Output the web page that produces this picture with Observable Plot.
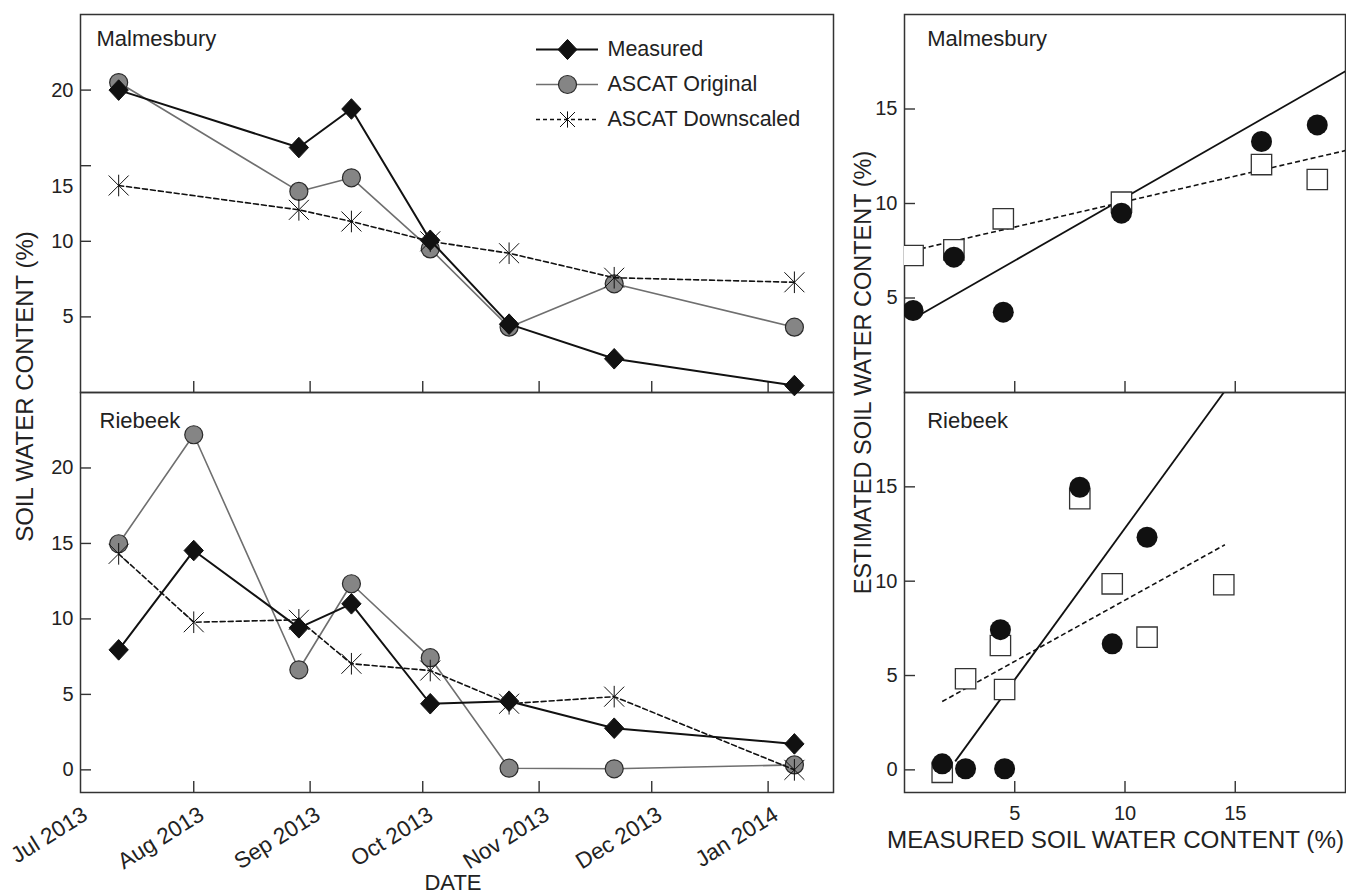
<!DOCTYPE html>
<html>
<head>
<meta charset="utf-8">
<script src="https://cdn.jsdelivr.net/npm/d3@7"></script>
<script src="https://cdn.jsdelivr.net/npm/@observablehq/plot@0.6"></script>
<style>
  body { margin: 0; background: #fff; }
  #chart { position: relative; width: 1346px; height: 895px; overflow: hidden; background: #fff;
           font-family: "Liberation Sans", Arial, sans-serif; }
  #chart svg { position: absolute; }
</style>
</head>
<body>
<div id="chart"></div>
<script>
// ---------------- DATA ----------------
const seriesNames = ["Measured", "ASCAT Original", "ASCAT Downscaled"];
const monthTicks = ["2013-07-01", "2013-08-01", "2013-09-01", "2013-10-01", "2013-11-01", "2013-12-01", "2014-01-01"];

const malmesburyDates = ["2013-07-12", "2013-08-29", "2013-09-12", "2013-10-03", "2013-10-24", "2013-11-21", "2014-01-08"];
const malmesburyMeasured   = [20.0, 16.2, 18.75, 10.07, 4.52, 2.23, 0.46];
const malmesburyOriginal   = [20.5, 13.3, 14.2, 9.5, 4.32, 7.19, 4.32];
const malmesburyDownscaled = [13.69, 12.08, 11.31, 10.0, 9.21, 7.59, 7.29];

const riebeekDates = ["2013-07-12", "2013-08-01", "2013-08-29", "2013-09-12", "2013-10-03", "2013-10-24", "2013-11-21", "2014-01-08"];
const riebeekMeasured   = [7.95, 14.53, 9.41, 11.0, 4.38, 4.55, 2.76, 1.72];
const riebeekOriginal   = [14.98, 22.2, 6.63, 12.33, 7.43, 0.11, 0.07, 0.33];
const riebeekDownscaled = [14.31, 9.78, 9.94, 7.03, 6.58, 4.38, 4.85, 0.0];

// measured vs estimated (scatter panels)
const malmesburyScatterMeasured   = [16.19, 18.72, 9.84, 4.48, 2.24, 0.39];
const malmesburyScatterOriginal   = [13.28, 14.16, 9.49, 4.25, 7.16, 4.34];
const malmesburyScatterDownscaled = [12.06, 11.27, 10.07, 9.19, 7.55, 7.25];

const riebeekScatterMeasured   = [7.95, 14.48, 9.42, 11.0, 4.35, 4.54, 2.77, 1.71];
const riebeekScatterOriginal   = [14.98, 22.2, 6.68, 12.33, 7.43, 0.06, 0.06, 0.32];
const riebeekScatterDownscaled = [14.37, 9.81, 9.86, 7.03, 6.59, 4.26, 4.83, -0.13];

// fitted lines (end points)
const fitSite   = ["Malmesbury", "Malmesbury", "Riebeek", "Riebeek"];
const fitSeries = ["ASCAT Original", "ASCAT Downscaled", "ASCAT Original", "ASCAT Downscaled"];
const fitX1 = [0.39, 0.39, 2.3, 1.71];
const fitY1 = [3.9, 7.51, 0.45, 3.62];
const fitX2 = [20, 20, 14.48, 14.53];
const fitY2 = [17.0, 12.8, 20.0, 11.93];

// ---------------- HELPERS ----------------
const parse = d3.utcParse("%Y-%m-%d");
const fmtMonth = d3.utcFormat("%b %Y");
const FONT = "'Liberation Sans', Arial, Helvetica, sans-serif";
const INK = "#222";
const FRAME = "#333";

function timeRows(dates, measured, original, downscaled) {
  const rows = [];
  dates.forEach((d, i) => {
    rows.push({date: parse(d), series: "ASCAT Original", value: original[i]});
    rows.push({date: parse(d), series: "ASCAT Downscaled", value: downscaled[i]});
    rows.push({date: parse(d), series: "Measured", value: measured[i]});
  });
  return rows;
}
function scatterRows(measured, original, downscaled) {
  const rows = [];
  measured.forEach((m, i) => {
    rows.push({measured: m, series: "ASCAT Original", value: original[i]});
    rows.push({measured: m, series: "ASCAT Downscaled", value: downscaled[i]});
  });
  return rows;
}
const fits = fitSite.map((s, i) => ({site: s, series: fitSeries[i], x1: fitX1[i], y1: fitY1[i], x2: fitX2[i], y2: fitY2[i]}));

const asteriskSymbol = {
  draw(context, size) {
    const r = Math.sqrt(size / Math.PI);
    const v = r * 1.08;
    context.moveTo(0, -v); context.lineTo(0, v);
    context.moveTo(-r, -r); context.lineTo(r, r);
    context.moveTo(-r, r); context.lineTo(r, -r);
  }
};
const diamondSymbol = {
  draw(context, size) {
    const r = Math.sqrt(size / Math.PI);
    const h = r * 1.12, w = r * 1.05;
    context.moveTo(0, -h); context.lineTo(w, 0); context.lineTo(0, h); context.lineTo(-w, 0); context.closePath();
  }
};

const lineStyle = {
  "Measured": {stroke: "#111", strokeWidth: 2},
  "ASCAT Original": {stroke: "#6f6f6f", strokeWidth: 1.6},
  "ASCAT Downscaled": {stroke: "#111", strokeWidth: 1.6, strokeDasharray: "5,3"}
};
const dotStyle = {
  "Measured": {symbol: diamondSymbol, r: 9.2, fill: "#111", stroke: "#111", strokeWidth: 1},
  "ASCAT Original": {symbol: "circle", r: 9, fill: "#858585", stroke: "#2a2a2a", strokeWidth: 1.2},
  "ASCAT Downscaled": {symbol: asteriskSymbol, r: 10, fill: "none", stroke: "#111", strokeWidth: 1}
};

const X_TIME = [new Date(Date.UTC(2013, 6, 1, 20)), new Date(Date.UTC(2014, 0, 18, 10))];

const chart = document.getElementById("chart");
function place(svg, left, top) {
  svg.style.left = left + "px";
  svg.style.top = top + "px";
  chart.appendChild(svg);
}
const baseStyle = {background: "transparent", overflow: "visible", fontFamily: FONT, color: INK};

// ---------------- TIME SERIES PANELS ----------------
function timePanel({site, rows, yDomain, yTicks, yLabelTicks, bottom, extra = []}) {
  const order = ["ASCAT Original", "ASCAT Downscaled", "Measured"];
  const seriesMarks = order.flatMap(s => {
    const data = rows.filter(r => r.series === s);
    return [
      Plot.line(data, {x: "date", y: "value", ...lineStyle[s]}),
      Plot.dot(data, {x: "date", y: "value", ...dotStyle[s]})
    ];
  });
  const innerTicks = monthTicks.map(parse).filter(d => d > X_TIME[0]);
  const marks = [
    Plot.frame({stroke: FRAME, strokeWidth: 1.5}),
    Plot.axisY(yTicks, {anchor: "left", tickSize: -11, fill: "none", label: null, stroke: FRAME, strokeWidth: 1.4}),
    Plot.axisY(yLabelTicks, {anchor: "left", tickSize: 0, tickPadding: 7, fontSize: 20, label: null, fill: INK}),
    Plot.axisX(innerTicks, {anchor: "bottom", tickSize: -11, fill: "none", label: null, stroke: FRAME, strokeWidth: 1.4}),
    ...(bottom ? [Plot.axisX(monthTicks.map(parse), {anchor: "bottom", tickSize: 0, tickPadding: 20, tickRotate: -32, dx: 8,
                   fontSize: 22.5, tickFormat: fmtMonth, label: null, fill: INK})] : []),
    ...seriesMarks,
    Plot.text([site], {frameAnchor: "top-left", dx: bottom ? 19 : 16, dy: bottom ? 28 : 24, textAnchor: "start",
                       lineAnchor: "middle", fontSize: 22, fill: INK}),
    ...extra
  ];
  return Plot.plot({
    width: 845,
    height: bottom ? 503 : 392,
    marginLeft: 80, marginRight: 12,
    marginTop: bottom ? 0 : 14, marginBottom: bottom ? 103 : 0,
    x: {type: "utc", domain: X_TIME},
    y: {domain: yDomain},
    style: baseStyle,
    marks
  });
}

const tl = timePanel({
  site: "Malmesbury",
  rows: timeRows(malmesburyDates, malmesburyMeasured, malmesburyOriginal, malmesburyDownscaled),
  yDomain: [0, 25], yTicks: [5, 10, 15, 20], yLabelTicks: [5, 10, 20], bottom: false,
  extra: [
    // the "15" label sits below its tick in the original figure
    Plot.text([15], {y: d => d, text: d => String(d), frameAnchor: "left", dx: -7, dy: 21, textAnchor: "end",
                     lineAnchor: "middle", fontSize: 20, fill: INK}),
    Plot.text(["SOIL WATER CONTENT (%)"], {frameAnchor: "bottom-left", rotate: -90, dx: -55, dy: -6,
                     textAnchor: "middle", lineAnchor: "middle", fontSize: 24, fill: INK})
  ]
});
const bl = timePanel({
  site: "Riebeek",
  rows: timeRows(riebeekDates, riebeekMeasured, riebeekOriginal, riebeekDownscaled),
  yDomain: [-1.5, 25], yTicks: [0, 5, 10, 15, 20], yLabelTicks: [0, 5, 10, 15, 20], bottom: true,
  extra: [
    Plot.text(["DATE"], {frameAnchor: "bottom", dx: -4, dy: 90.5, lineAnchor: "middle", fontSize: 22, fill: INK})
  ]
});

// ---------------- SCATTER PANELS ----------------
function scatterPanel({site, rows, yDomain, yTicks, bottom, extra = []}) {
  const orig = rows.filter(r => r.series === "ASCAT Original");
  const down = rows.filter(r => r.series === "ASCAT Downscaled");
  const siteFits = fits.filter(f => f.site === site);
  const marks = [
    Plot.frame({stroke: FRAME, strokeWidth: 1.5}),
    Plot.axisY(yTicks, {anchor: "left", tickSize: -11, fill: "none", label: null, stroke: FRAME, strokeWidth: 1.4}),
    Plot.axisY(yTicks, {anchor: "left", tickSize: 0, tickPadding: 7, fontSize: 20, label: null, fill: INK}),
    Plot.axisX([5, 10, 15], {anchor: "bottom", tickSize: -11, fill: "none", label: null, stroke: FRAME, strokeWidth: 1.4}),
    ...(bottom ? [Plot.axisX([5, 10, 15], {anchor: "bottom", tickSize: 0, tickPadding: 13, fontSize: 20, label: null, fill: INK})] : []),
    Plot.link(siteFits.filter(f => f.series === "ASCAT Original"),
              {x1: "x1", y1: "y1", x2: "x2", y2: "y2", stroke: "#111", strokeWidth: 1.8, clip: true}),
    Plot.link(siteFits.filter(f => f.series === "ASCAT Downscaled"),
              {x1: "x1", y1: "y1", x2: "x2", y2: "y2", stroke: "#111", strokeWidth: 1.6, strokeDasharray: "5,3", clip: true}),
    Plot.dot(down, {x: "measured", y: "value", symbol: "square", r: 11.5, fill: "white", stroke: "#333", strokeWidth: 1.3, clip: true}),
    Plot.dot(orig, {x: "measured", y: "value", symbol: "circle", r: 10.5, fill: "#111", clip: true}),
    Plot.text([site], {frameAnchor: "top-left", dx: 22.7, dy: bottom ? 28 : 24, textAnchor: "start",
                       lineAnchor: "middle", fontSize: 22, fill: INK}),
    ...extra
  ];
  return Plot.plot({
    width: 501,
    height: bottom ? 503 : 392,
    marginLeft: 59, marginRight: 1,
    marginTop: bottom ? 0 : 14, marginBottom: bottom ? 103 : 0,
    x: {domain: [0, 20]},
    y: {domain: yDomain},
    style: baseStyle,
    marks
  });
}

const tr = scatterPanel({
  site: "Malmesbury",
  rows: scatterRows(malmesburyScatterMeasured, malmesburyScatterOriginal, malmesburyScatterDownscaled),
  yDomain: [0, 20], yTicks: [5, 10, 15], bottom: false,
  extra: [
    Plot.text(["ESTIMATED SOIL WATER CONTENT (%)"], {frameAnchor: "bottom-left", rotate: -90, dx: -41, dy: -20,
              textAnchor: "middle", lineAnchor: "middle", fontSize: 23.5, fill: INK})
  ]
});
const br = scatterPanel({
  site: "Riebeek",
  rows: scatterRows(riebeekScatterMeasured, riebeekScatterOriginal, riebeekScatterDownscaled),
  yDomain: [-1.2, 20], yTicks: [0, 5, 10, 15], bottom: true,
  extra: [
    Plot.text(["MEASURED SOIL WATER CONTENT (%)"], {frameAnchor: "bottom", dx: -9.5, dy: 48, lineAnchor: "middle",
              fontSize: 24.2, fill: INK})
  ]
});

// ---------------- LEGEND ----------------
const legend = Plot.plot({
  width: 300, height: 130,
  marginLeft: 16, marginRight: 222, marginTop: 28, marginBottom: 31,
  x: {domain: [0, 1], axis: null},
  y: {type: "point", domain: seriesNames, padding: 0, axis: null},
  style: baseStyle,
  marks: [
    ...seriesNames.map(s => Plot.ruleY([s], {y: d => d, x1: 0, x2: 1, ...lineStyle[s],
                        strokeDasharray: s === "ASCAT Downscaled" ? "4,3" : null})),
    ...seriesNames.map(s => Plot.dot([s], {x: 0.5, y: d => d, ...dotStyle[s],
                        r: s === "ASCAT Downscaled" ? 7.5 : 9})),
    Plot.text(seriesNames, {x: 1, y: d => d, dx: 9, textAnchor: "start", lineAnchor: "middle", fontSize: 21.5, fill: INK})
  ]
});

place(bl, 0, 392);
place(tl, 0, 0);
place(br, 845, 392);
place(tr, 845, 0);
place(legend, 520, 20);
</script>
</body>
</html>
